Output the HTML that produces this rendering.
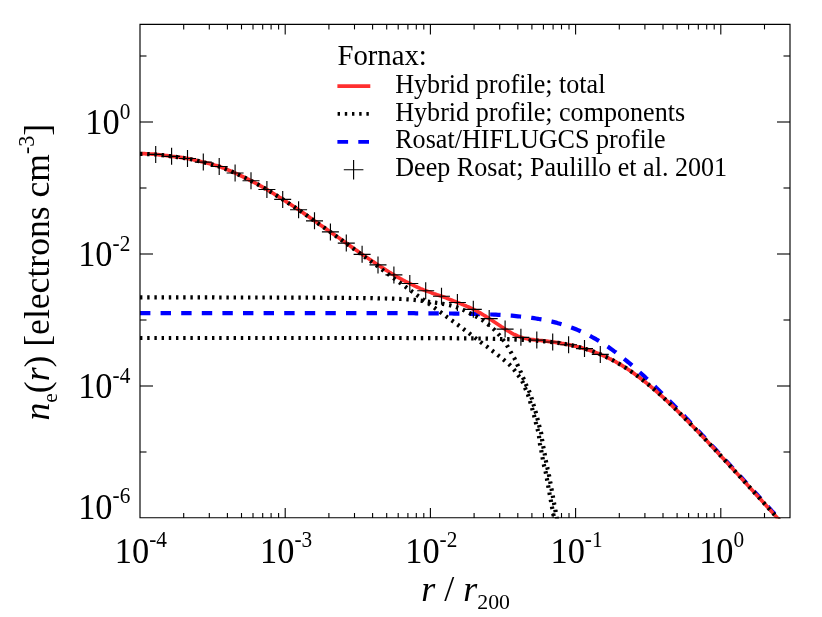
<!DOCTYPE html>
<html><head><meta charset="utf-8"><title>Fornax density profile</title>
<style>
html,body{margin:0;padding:0;background:#fff;}
body{width:822px;height:617px;overflow:hidden;font-family:"Liberation Serif",serif;}
svg{display:block;will-change:transform;}
text{font-family:"Liberation Serif",serif;fill:#000;}
</style></head><body>
<svg width="822" height="617" viewBox="0 0 822 617">
<rect width="822" height="617" fill="#fff"/>
<defs><clipPath id="cp"><rect x="140.0" y="24.4" width="650.0" height="494.1"/></clipPath></defs>
<g clip-path="url(#cp)" fill="none" stroke-linejoin="round">
<polyline points="140.0,313.1 142.0,313.1 144.0,313.1 146.0,313.1 148.0,313.1 150.0,313.1 152.0,313.1 154.0,313.1 156.0,313.1 158.0,313.1 160.0,313.1 162.0,313.1 164.0,313.1 166.0,313.1 168.0,313.1 170.0,313.1 172.0,313.1 174.0,313.1 176.0,313.1 178.0,313.1 180.0,313.1 182.0,313.1 184.0,313.1 186.0,313.1 188.0,313.1 190.0,313.1 192.0,313.1 194.0,313.1 196.0,313.1 198.0,313.1 200.0,313.1 202.0,313.1 204.0,313.1 206.0,313.1 208.0,313.1 210.0,313.1 212.0,313.1 214.0,313.1 216.0,313.1 218.0,313.1 220.0,313.1 222.0,313.1 224.0,313.1 226.0,313.1 228.0,313.1 230.0,313.1 232.0,313.1 234.0,313.1 236.0,313.1 238.0,313.1 240.0,313.1 242.0,313.1 244.0,313.1 246.0,313.1 248.0,313.1 250.0,313.1 252.0,313.1 254.0,313.1 256.0,313.1 258.0,313.1 260.0,313.1 262.0,313.1 264.0,313.1 266.0,313.1 268.0,313.1 270.0,313.1 272.0,313.1 274.0,313.1 276.0,313.1 278.0,313.1 280.0,313.1 282.0,313.1 284.0,313.1 286.0,313.1 288.0,313.1 290.0,313.1 292.0,313.1 294.0,313.1 296.0,313.1 298.0,313.1 300.0,313.1 302.0,313.1 304.0,313.1 306.0,313.1 308.0,313.1 310.0,313.1 312.0,313.1 314.0,313.1 316.0,313.1 318.0,313.1 320.0,313.1 322.0,313.1 324.0,313.1 326.0,313.1 328.0,313.1 330.0,313.1 332.0,313.1 334.0,313.1 336.0,313.1 338.0,313.1 340.0,313.1 342.0,313.1 344.0,313.1 346.0,313.1 348.0,313.1 350.0,313.1 352.0,313.1 354.0,313.1 356.0,313.1 358.0,313.1 360.0,313.2 362.0,313.2 364.0,313.2 366.0,313.2 368.0,313.2 370.0,313.2 372.0,313.2 374.0,313.2 376.0,313.2 378.0,313.2 380.0,313.2 382.0,313.2 384.0,313.2 386.0,313.2 388.0,313.2 390.0,313.2 392.0,313.2 394.0,313.2 396.0,313.2 398.0,313.2 400.0,313.2 402.0,313.2 404.0,313.2 406.0,313.2 408.0,313.2 410.0,313.2 412.0,313.2 414.0,313.2 416.0,313.3 418.0,313.3 420.0,313.3 422.0,313.3 424.0,313.3 426.0,313.3 428.0,313.3 430.0,313.3 432.0,313.3 434.0,313.4 436.0,313.4 438.0,313.4 440.0,313.4 442.0,313.4 444.0,313.4 446.0,313.5 448.0,313.5 450.0,313.5 452.0,313.5 454.0,313.6 456.0,313.6 458.0,313.6 460.0,313.6 462.0,313.7 464.0,313.7 466.0,313.8 468.0,313.8 470.0,313.8 472.0,313.9 474.0,313.9 476.0,314.0 478.0,314.0 480.0,314.1 482.0,314.2 484.0,314.2 486.0,314.3 488.0,314.4 490.0,314.5 492.0,314.5 494.0,314.6 496.0,314.7 498.0,314.8 500.0,314.9 502.0,315.0 504.0,315.2 506.0,315.3 508.0,315.4 510.0,315.6 512.0,315.7 514.0,315.9 516.0,316.1 518.0,316.3 520.0,316.5 522.0,316.7 524.0,316.9 526.0,317.1 528.0,317.4 530.0,317.6 532.0,317.9 534.0,318.2 536.0,318.5 538.0,318.8 540.0,319.2 542.0,319.5 544.0,319.9 546.0,320.3 548.0,320.7 550.0,321.2 552.0,321.6 554.0,322.1 556.0,322.6 558.0,323.2 560.0,323.7 562.0,324.3 564.0,325.0 566.0,325.6 568.0,326.3 570.0,327.0 572.0,327.7 574.0,328.5 576.0,329.3 578.0,330.1 580.0,331.0 582.0,331.9 584.0,332.9 586.0,333.8 588.0,334.8 590.0,335.9 592.0,337.0 594.0,338.1 596.0,339.2 598.0,340.4 600.0,341.6 602.0,342.9 604.0,344.1 606.0,345.5 608.0,346.8 610.0,348.2 612.0,349.6 614.0,351.1 616.0,352.5 618.0,354.1 620.0,355.6 622.0,357.2 624.0,358.8 626.0,360.4 628.0,362.0 630.0,363.7 632.0,365.4 634.0,367.1 636.0,368.9 638.0,370.7 640.0,372.5 642.0,374.3 644.0,376.1 646.0,378.0 648.0,379.8 650.0,381.7 652.0,383.6 654.0,385.5 656.0,387.5 658.0,389.4 660.0,391.4 662.0,393.4 664.0,395.4 666.0,397.4 668.0,399.4 670.0,401.4 672.0,403.4 674.0,405.5 676.0,407.5 678.0,409.6 680.0,411.7 682.0,413.8 684.0,415.8 686.0,417.9 688.0,420.0 690.0,422.1 692.0,424.2 694.0,426.4 696.0,428.5 698.0,430.6 700.0,432.7 702.0,434.9 704.0,437.0 706.0,439.2 708.0,441.3 710.0,443.5 712.0,445.6 714.0,447.8 716.0,449.9 718.0,452.1 720.0,454.2 722.0,456.4 724.0,458.6 726.0,460.8 728.0,462.9 730.0,465.1 732.0,467.3 734.0,469.5 736.0,471.6 738.0,473.8 740.0,476.0 742.0,478.2 744.0,480.4 746.0,482.6 748.0,484.7 750.0,486.9 752.0,489.1 754.0,491.3 756.0,493.5 758.0,495.7 760.0,497.9 762.0,500.1 764.0,502.3 766.0,504.5 768.0,506.7 770.0,508.9 772.0,511.1 774.0,513.2 776.0,515.4 778.0,517.6 780.0,519.8 782.0,522.0 784.0,524.2" stroke="#0000ff" stroke-width="4.2" stroke-dasharray="10.4 10.2"/>
<polyline points="140.0,153.8 141.5,153.8 143.0,153.7 144.5,153.7 146.0,153.8 147.5,153.8 149.0,153.9 150.5,154.0 152.0,154.1 153.5,154.2 155.0,154.3 156.5,154.5 158.0,154.6 159.5,154.8 161.0,155.0 162.5,155.2 164.0,155.3 165.5,155.5 167.0,155.7 168.5,155.9 170.0,156.1 171.5,156.3 173.0,156.5 174.5,156.7 176.0,156.9 177.5,157.0 179.0,157.2 180.5,157.4 182.0,157.6 183.5,157.9 185.0,158.1 186.5,158.3 188.0,158.6 189.5,158.9 191.0,159.2 192.5,159.5 194.0,159.9 195.5,160.2 197.0,160.6 198.5,160.9 200.0,161.3 201.5,161.7 203.0,162.0 204.5,162.4 206.0,162.8 207.5,163.1 209.0,163.5 210.5,163.9 212.0,164.3 213.5,164.7 215.0,165.2 216.5,165.6 218.0,166.1 219.5,166.6 221.0,167.1 222.5,167.7 224.0,168.2 225.5,168.8 227.0,169.5 228.5,170.1 230.0,170.7 231.5,171.4 233.0,172.1 234.5,172.7 236.0,173.4 237.5,174.1 239.0,174.8 240.5,175.5 242.0,176.3 243.5,177.0 245.0,177.7 246.5,178.5 248.0,179.2 249.5,180.0 251.0,180.7 252.5,181.5 254.0,182.3 255.5,183.1 257.0,183.9 258.5,184.7 260.0,185.6 261.5,186.4 263.0,187.3 264.5,188.1 266.0,189.0 267.5,189.9 269.0,190.8 270.5,191.7 272.0,192.6 273.5,193.5 275.0,194.5 276.5,195.4 278.0,196.3 279.5,197.3 281.0,198.2 282.5,199.2 284.0,200.2 285.5,201.1 287.0,202.1 288.5,203.0 290.0,204.0 291.5,205.0 293.0,206.0 294.5,207.0 296.0,207.9 297.5,209.0 299.0,210.0 300.5,211.0 302.0,212.0 303.5,213.1 305.0,214.1 306.5,215.2 308.0,216.2 309.5,217.3 311.0,218.4 312.5,219.4 314.0,220.5 315.5,221.5 317.0,222.6 318.5,223.6 320.0,224.7 321.5,225.7 323.0,226.8 324.5,227.8 326.0,228.9 327.5,229.9 329.0,231.0 330.5,232.0 332.0,233.1 333.5,234.1 335.0,235.2 336.5,236.2 338.0,237.3 339.5,238.3 341.0,239.4 342.5,240.4 344.0,241.5 345.5,242.6 347.0,243.6 348.5,244.7 350.0,245.8 351.5,246.9 353.0,247.9 354.5,249.0 356.0,250.0 357.5,251.1 359.0,252.2 360.5,253.2 362.0,254.2 363.5,255.3 365.0,256.3 366.5,257.3 368.0,258.3 369.5,259.3 371.0,260.3 372.5,261.3 374.0,262.2 375.5,263.2 377.0,264.2 378.5,265.2 380.0,266.2 381.5,267.2 383.0,268.1 384.5,269.1 386.0,270.1 387.5,271.0 389.0,272.0 390.5,272.9 392.0,273.8 393.5,274.7 395.0,275.6 396.5,276.5 398.0,277.3 399.5,278.1 401.0,279.0 402.5,279.8 404.0,280.6 405.5,281.4 407.0,282.1 408.5,282.9 410.0,283.7 411.5,284.4 413.0,285.1 414.5,285.9 416.0,286.6 417.5,287.3 419.0,287.9 420.5,288.6 422.0,289.2 423.5,289.9 425.0,290.5 426.5,291.0 428.0,291.6 429.5,292.1 431.0,292.6 432.5,293.2 434.0,293.7 435.5,294.1 437.0,294.7 438.5,295.2 440.0,295.7 441.5,296.2 443.0,296.7 444.5,297.3 446.0,297.9 447.5,298.5 449.0,299.1 450.5,299.7 452.0,300.3 453.5,300.9 455.0,301.5 456.5,302.1 458.0,302.7 459.5,303.3 461.0,303.9 462.5,304.5 464.0,305.1 465.5,305.7 467.0,306.4 468.5,307.0 470.0,307.7 471.5,308.4 473.0,309.1 474.5,309.9 476.0,310.6 477.5,311.5 479.0,312.3 480.5,313.2 482.0,314.1 483.5,315.0 485.0,315.9 486.5,316.9 488.0,317.8 489.5,318.8 491.0,319.8 492.5,320.8 494.0,321.8 495.5,322.8 497.0,323.8 498.5,324.8 500.0,325.8 501.5,326.8 503.0,327.7 504.5,328.7 506.0,329.7 507.5,330.6 509.0,331.5 510.5,332.4 512.0,333.3 513.5,334.1 515.0,334.8 516.5,335.5 518.0,336.2 519.5,336.8 521.0,337.3 522.5,337.8 524.0,338.2 525.5,338.5 527.0,338.8 528.5,339.1 530.0,339.3 531.5,339.5 533.0,339.7 534.5,339.9 536.0,340.0 537.5,340.2 539.0,340.4 540.5,340.5 542.0,340.7 543.5,340.9 545.0,341.1 546.5,341.2 548.0,341.4 549.5,341.6 551.0,341.8 552.5,342.0 554.0,342.2 555.5,342.4 557.0,342.6 558.5,342.9 560.0,343.1 561.5,343.4 563.0,343.6 564.5,343.9 566.0,344.2 567.5,344.5 569.0,344.8 570.5,345.1 572.0,345.4 573.5,345.7 575.0,346.1 576.5,346.5 578.0,346.8 579.5,347.2 581.0,347.6 582.5,348.1 584.0,348.5 585.5,349.0 587.0,349.4 588.5,349.9 590.0,350.4 591.5,350.9 593.0,351.5 594.5,352.0 596.0,352.6 597.5,353.2 599.0,353.8 600.5,354.4 602.0,355.1 603.5,355.7 605.0,356.4 606.5,357.1 608.0,357.8 609.5,358.6 611.0,359.3 612.5,360.1 614.0,360.9 615.5,361.7 617.0,362.6 618.5,363.4 620.0,364.3 621.5,365.2 623.0,366.1 624.5,367.1 626.0,368.0 627.5,369.0 629.0,370.0 630.5,371.0 632.0,372.1 633.5,373.1 635.0,374.2 636.5,375.3 638.0,376.4 639.5,377.5 641.0,378.7 642.5,379.8 644.0,381.0 645.5,382.2 647.0,383.4 648.5,384.7 650.0,385.9 651.5,387.2 653.0,388.4 654.5,389.7 656.0,391.0 657.5,392.3 659.0,393.7 660.5,395.0 662.0,396.3 663.5,397.7 665.0,399.1 666.5,400.5 668.0,401.9 669.5,403.3 671.0,404.7 672.5,406.1 674.0,407.6 675.5,409.0 677.0,410.5 678.5,411.9 680.0,413.4 681.5,414.9 683.0,416.4 684.5,417.9 686.0,419.4 687.5,420.9 689.0,422.4 690.5,424.0 692.0,425.5 693.5,427.0 695.0,428.6 696.5,430.1 698.0,431.7 699.5,433.3 701.0,434.8 702.5,436.4 704.0,438.0 705.5,439.5 707.0,441.1 708.5,442.7 710.0,444.3 711.5,445.9 713.0,447.5 714.5,449.1 716.0,450.7 717.5,452.3 719.0,453.9 720.5,455.5 722.0,457.2 723.5,458.8 725.0,460.4 726.5,462.0 728.0,463.6 729.5,465.3 731.0,466.9 732.5,468.5 734.0,470.2 735.5,471.8 737.0,473.4 738.5,475.1 740.0,476.7 741.5,478.4 743.0,480.0 744.5,481.7 746.0,483.3 747.5,485.0 749.0,486.6 750.5,488.3 752.0,489.9 753.5,491.6 755.0,493.2 756.5,494.9 758.0,496.5 759.5,498.2 761.0,499.8 762.5,501.5 764.0,503.1 765.5,504.8 767.0,506.5 768.5,508.1 770.0,509.8 771.5,511.4 773.0,513.1 774.5,514.8 776.0,516.4 777.5,518.1 779.0,519.8 780.5,521.4 782.0,523.1" stroke="#ff2f2f" stroke-width="3.7"/>
<g stroke="#000" stroke-width="4.2" stroke-dasharray="2.4 4.8">
<polyline points="140.0,338.0 142.0,338.0 144.0,338.0 146.0,338.0 148.0,338.0 150.0,338.0 152.0,338.0 154.0,338.0 156.0,338.0 158.0,338.0 160.0,338.0 162.0,338.0 164.0,338.0 166.0,338.0 168.0,338.0 170.0,338.0 172.0,338.0 174.0,338.0 176.0,338.0 178.0,338.0 180.0,338.0 182.0,338.0 184.0,338.0 186.0,338.0 188.0,338.0 190.0,338.0 192.0,338.0 194.0,338.0 196.0,338.0 198.0,338.0 200.0,338.0 202.0,338.0 204.0,338.0 206.0,338.0 208.0,338.0 210.0,338.0 212.0,338.0 214.0,338.0 216.0,338.0 218.0,338.0 220.0,338.0 222.0,338.0 224.0,338.0 226.0,338.0 228.0,338.0 230.0,338.0 232.0,338.0 234.0,338.0 236.0,338.0 238.0,338.0 240.0,338.0 242.0,338.0 244.0,338.0 246.0,338.0 248.0,338.0 250.0,338.0 252.0,338.0 254.0,338.0 256.0,338.0 258.0,338.0 260.0,338.0 262.0,338.0 264.0,338.0 266.0,338.0 268.0,338.0 270.0,338.0 272.0,338.0 274.0,338.0 276.0,338.0 278.0,338.0 280.0,338.0 282.0,338.0 284.0,338.0 286.0,338.0 288.0,338.0 290.0,338.0 292.0,338.0 294.0,338.0 296.0,338.0 298.0,338.0 300.0,338.0 302.0,338.0 304.0,338.0 306.0,338.0 308.0,338.0 310.0,338.0 312.0,338.0 314.0,338.0 316.0,338.0 318.0,338.0 320.0,338.0 322.0,338.0 324.0,338.0 326.0,338.0 328.0,338.0 330.0,338.0 332.0,338.0 334.0,338.0 336.0,338.0 338.0,338.0 340.0,338.0 342.0,338.0 344.0,338.0 346.0,338.0 348.0,338.0 350.0,338.0 352.0,338.0 354.0,338.0 356.0,338.0 358.0,338.0 360.0,338.0 362.0,338.0 364.0,338.0 366.0,338.0 368.0,338.0 370.0,338.0 372.0,338.0 374.0,338.0 376.0,338.0 378.0,338.0 380.0,338.0 382.0,338.0 384.0,338.0 386.0,338.0 388.0,338.0 390.0,338.0 392.0,338.0 394.0,338.0 396.0,338.0 398.0,338.0 400.0,338.0 402.0,338.0 404.0,338.0 406.0,338.0 408.0,338.1 410.0,338.1 412.0,338.1 414.0,338.1 416.0,338.1 418.0,338.1 420.0,338.1 422.0,338.1 424.0,338.1 426.0,338.1 428.0,338.1 430.0,338.1 432.0,338.1 434.0,338.1 436.0,338.1 438.0,338.1 440.0,338.1 442.0,338.2 444.0,338.2 446.0,338.2 448.0,338.2 450.0,338.2 452.0,338.2 454.0,338.2 456.0,338.2 458.0,338.3 460.0,338.3 462.0,338.3 464.0,338.3 466.0,338.3 468.0,338.3 470.0,338.4 472.0,338.4 474.0,338.4 476.0,338.5 478.0,338.5 480.0,338.5 482.0,338.5 484.0,338.6 486.0,338.6 488.0,338.7 490.0,338.7 492.0,338.7 494.0,338.8 496.0,338.8 498.0,338.9 500.0,339.0 502.0,339.0 504.0,339.1 506.0,339.2 508.0,339.2 510.0,339.3 512.0,339.4 514.0,339.5 516.0,339.6 518.0,339.7 520.0,339.8 522.0,339.9 524.0,340.0 526.0,340.1 528.0,340.2 530.0,340.3 532.0,340.4 534.0,340.5 536.0,340.7 538.0,340.8 540.0,341.0 542.0,341.1 544.0,341.3 546.0,341.5 548.0,341.7 550.0,341.9 552.0,342.1 554.0,342.3 556.0,342.6 558.0,342.8 560.0,343.1 562.0,343.4 564.0,343.8 566.0,344.2 568.0,344.6 570.0,345.0 572.0,345.4 574.0,345.9 576.0,346.3 578.0,346.8 580.0,347.4 582.0,347.9 584.0,348.5 586.0,349.1 588.0,349.7 590.0,350.4 592.0,351.1 594.0,351.8 596.0,352.6 598.0,353.4 600.0,354.2 602.0,355.1 604.0,356.0 606.0,356.9 608.0,357.8 610.0,358.8 612.0,359.9 614.0,360.9 616.0,362.0 618.0,363.2 620.0,364.3 622.0,365.5 624.0,366.8 626.0,368.0 628.0,369.4 630.0,370.7 632.0,372.1 634.0,373.5 636.0,374.9 638.0,376.4 640.0,377.9 642.0,379.5 644.0,381.0 646.0,382.6 648.0,384.2 650.0,385.9 652.0,387.6 654.0,389.3 656.0,391.0 658.0,392.8 660.0,394.5 662.0,396.3 664.0,398.2 666.0,400.0 668.0,401.9 670.0,403.8 672.0,405.7 674.0,407.6 676.0,409.5 678.0,411.5 680.0,413.4 682.0,415.4 684.0,417.4 686.0,419.4 688.0,421.4 690.0,423.5 692.0,425.5 694.0,427.6 696.0,429.6 698.0,431.7 700.0,433.8 702.0,435.9 704.0,438.0 706.0,440.1 708.0,442.2 710.0,444.3 712.0,446.4 714.0,448.6 716.0,450.7 718.0,452.8 720.0,455.0 722.0,457.2 724.0,459.3 726.0,461.5 728.0,463.6 730.0,465.8 732.0,468.0 734.0,470.2 736.0,472.4 738.0,474.5 740.0,476.7 742.0,478.9 744.0,481.1 746.0,483.3 748.0,485.5 750.0,487.7 752.0,489.9 754.0,492.1 756.0,494.3 758.0,496.5 760.0,498.7 762.0,500.9 764.0,503.1 766.0,505.4 768.0,507.6 770.0,509.8 772.0,512.0 774.0,514.2 776.0,516.4 778.0,518.7 780.0,520.9 782.0,523.1 784.0,525.3"/>
<polyline points="140.0,297.4 141.5,297.4 143.0,297.4 144.5,297.4 146.0,297.4 147.5,297.4 149.0,297.4 150.5,297.4 152.0,297.4 153.5,297.4 155.0,297.4 156.5,297.4 158.0,297.4 159.5,297.4 161.0,297.4 162.5,297.4 164.0,297.4 165.5,297.4 167.0,297.4 168.5,297.4 170.0,297.4 171.5,297.4 173.0,297.4 174.5,297.4 176.0,297.4 177.5,297.4 179.0,297.4 180.5,297.4 182.0,297.4 183.5,297.4 185.0,297.4 186.5,297.4 188.0,297.4 189.5,297.4 191.0,297.4 192.5,297.4 194.0,297.4 195.5,297.4 197.0,297.4 198.5,297.4 200.0,297.4 201.5,297.4 203.0,297.4 204.5,297.4 206.0,297.4 207.5,297.4 209.0,297.4 210.5,297.4 212.0,297.4 213.5,297.4 215.0,297.5 216.5,297.5 218.0,297.5 219.5,297.5 221.0,297.5 222.5,297.5 224.0,297.5 225.5,297.5 227.0,297.5 228.5,297.5 230.0,297.5 231.5,297.5 233.0,297.5 234.5,297.5 236.0,297.5 237.5,297.5 239.0,297.5 240.5,297.5 242.0,297.5 243.5,297.5 245.0,297.5 246.5,297.5 248.0,297.5 249.5,297.5 251.0,297.5 252.5,297.5 254.0,297.5 255.5,297.5 257.0,297.5 258.5,297.5 260.0,297.5 261.5,297.5 263.0,297.5 264.5,297.5 266.0,297.5 267.5,297.5 269.0,297.5 270.5,297.5 272.0,297.5 273.5,297.6 275.0,297.6 276.5,297.6 278.0,297.6 279.5,297.6 281.0,297.6 282.5,297.6 284.0,297.6 285.5,297.6 287.0,297.6 288.5,297.6 290.0,297.6 291.5,297.6 293.0,297.6 294.5,297.6 296.0,297.6 297.5,297.6 299.0,297.6 300.5,297.7 302.0,297.7 303.5,297.7 305.0,297.7 306.5,297.7 308.0,297.7 309.5,297.7 311.0,297.7 312.5,297.7 314.0,297.7 315.5,297.7 317.0,297.7 318.5,297.7 320.0,297.7 321.5,297.8 323.0,297.8 324.5,297.8 326.0,297.8 327.5,297.8 329.0,297.8 330.5,297.8 332.0,297.8 333.5,297.8 335.0,297.8 336.5,297.8 338.0,297.9 339.5,297.9 341.0,297.9 342.5,297.9 344.0,297.9 345.5,297.9 347.0,297.9 348.5,297.9 350.0,298.0 351.5,298.0 353.0,298.0 354.5,298.0 356.0,298.0 357.5,298.0 359.0,298.1 360.5,298.1 362.0,298.1 363.5,298.1 365.0,298.1 366.5,298.2 368.0,298.2 369.5,298.2 371.0,298.2 372.5,298.2 374.0,298.3 375.5,298.3 377.0,298.3 378.5,298.4 380.0,298.4 381.5,298.4 383.0,298.5 384.5,298.5 386.0,298.5 387.5,298.6 389.0,298.6 390.5,298.6 392.0,298.7 393.5,298.7 395.0,298.8 396.5,298.8 398.0,298.8 399.5,298.9 401.0,299.0 402.5,299.0 404.0,299.1 405.5,299.2 407.0,299.3 408.5,299.4 410.0,299.5 411.5,299.6 413.0,299.8 414.5,299.9 415.9,300.1 417.4,300.3 418.9,300.4 420.4,300.6 421.9,300.8 423.4,301.0 424.9,301.2 426.4,301.4 427.8,301.7 429.3,301.9 430.8,302.1 432.3,302.2 433.8,302.4 435.3,302.6 436.8,302.9 438.2,303.1 439.7,303.3 441.2,303.6 442.7,303.8 444.2,304.1 445.6,304.4 447.1,304.7 448.6,305.0 450.0,305.3 451.5,305.7 452.9,306.1 454.4,306.5 455.8,306.9 457.2,307.4 458.6,307.9 460.0,308.5 461.4,309.1 462.8,309.7 464.1,310.3 465.5,311.0 466.8,311.7 468.1,312.4 469.5,313.1 470.8,313.8 472.2,314.4 473.5,315.1 474.8,315.8 476.1,316.5 477.5,317.2 478.8,318.0 480.1,318.7 481.3,319.5 482.6,320.3 483.8,321.2 485.0,322.1 486.2,323.0 487.4,323.9 488.6,324.8 489.8,325.8 490.9,326.7 492.1,327.7 493.2,328.7 494.3,329.7 495.3,330.8 496.4,331.9 497.4,333.0 498.4,334.1 499.4,335.2 500.4,336.4 501.3,337.5 502.2,338.7 503.1,339.9 504.0,341.1 504.9,342.3 505.8,343.6 506.6,344.8 507.4,346.1 508.2,347.4 508.9,348.7 509.6,350.0 510.3,351.3 511.1,352.6 511.8,353.9 512.6,355.2 513.3,356.5 514.1,357.8 514.8,359.1 515.4,360.5 516.1,361.8 516.7,363.2 517.3,364.6 518.0,365.9 518.6,367.3 519.2,368.6 519.9,370.0 520.5,371.4 521.1,372.7 521.7,374.1 522.3,375.5 522.8,376.9 523.4,378.3 524.0,379.7 524.5,381.1 525.1,382.5 525.7,383.8 526.3,385.2 527.0,386.5 527.7,387.9 528.3,389.2 528.9,390.6 529.5,392.0 530.1,393.4 530.6,394.8 531.1,396.2 531.5,397.6 532.0,399.1 532.4,400.5 532.8,401.9 533.2,403.4 533.6,404.8 534.1,406.3 534.5,407.7 534.9,409.1 535.3,410.6 535.7,412.0 536.1,413.5 536.5,414.9 536.9,416.4 537.2,417.8 537.6,419.3 538.0,420.7 538.4,422.2 538.7,423.6 539.1,425.1 539.4,426.6 539.8,428.0 540.2,429.5 540.6,430.9 541.0,432.4 541.3,433.8 541.5,435.3 541.7,436.8 541.9,438.3 542.1,439.8 542.3,441.3 542.6,442.7 542.8,444.2 543.1,445.7 543.4,447.2 543.7,448.6 544.0,450.1 544.2,451.6 544.5,453.1 544.8,454.5 545.0,456.0 545.3,457.5 545.5,459.0 545.8,460.4 546.1,461.9 546.4,463.4 546.7,464.9 547.0,466.3 547.4,467.8 547.7,469.2 548.1,470.7 548.4,472.1 548.8,473.6 549.0,475.1 549.3,476.6 549.6,478.0 549.8,479.5 550.1,481.0 550.3,482.5 550.6,484.0 550.9,485.4 551.1,486.9 551.4,488.4 551.7,489.9 552.0,491.3 552.2,492.8 552.5,494.3 552.8,495.8 553.0,497.2 553.3,498.7 553.6,500.2 553.8,501.7 554.1,503.1 554.3,504.6 554.6,506.1 554.9,507.6 555.2,509.0 555.4,510.5 555.7,512.0 556.0,513.5 556.3,514.9 556.5,516.4 556.8,517.9 557.1,519.4 557.4,520.8"/>
<polyline points="140.0,153.9 141.5,153.9 143.0,153.9 144.5,154.0 146.0,154.0 147.5,154.1 149.0,154.1 150.5,154.2 152.0,154.3 153.5,154.4 155.0,154.5 156.5,154.5 158.0,154.7 159.5,154.8 161.0,155.0 162.4,155.2 163.9,155.4 165.4,155.6 166.9,155.8 168.4,156.0 169.9,156.2 171.4,156.4 172.9,156.6 174.4,156.8 175.8,156.9 177.3,157.1 178.8,157.3 180.3,157.5 181.8,157.7 183.3,157.9 184.8,158.2 186.2,158.4 187.7,158.7 189.2,158.9 190.7,159.2 192.1,159.5 193.6,159.8 195.1,160.2 196.5,160.5 198.0,160.9 199.4,161.2 200.9,161.6 202.4,162.0 203.8,162.3 205.3,162.7 206.7,163.1 208.2,163.4 209.6,163.8 211.1,164.2 212.5,164.6 214.0,165.0 215.4,165.4 216.8,165.8 218.3,166.3 219.7,166.8 221.1,167.3 222.5,167.8 223.9,168.3 225.3,168.9 226.7,169.4 228.1,170.0 229.5,170.6 230.8,171.2 232.2,171.8 233.6,172.4 235.0,173.0 236.3,173.7 237.7,174.3 239.0,174.9 240.4,175.6 241.8,176.2 243.1,176.9 244.5,177.5 245.8,178.2 247.1,178.9 248.5,179.5 249.8,180.2 251.1,180.9 252.5,181.6 253.8,182.3 255.1,183.0 256.4,183.7 257.8,184.4 259.1,185.2 260.4,185.9 261.7,186.6 263.0,187.4 264.3,188.1 265.6,188.9 266.9,189.6 268.2,190.4 269.5,191.1 270.8,191.9 272.0,192.7 273.3,193.5 274.6,194.3 275.9,195.1 277.1,195.9 278.4,196.7 279.7,197.5 280.9,198.3 282.2,199.1 283.5,199.9 284.7,200.7 286.0,201.5 287.3,202.3 288.5,203.2 289.8,204.0 291.0,204.8 292.3,205.6 293.5,206.4 294.8,207.3 296.0,208.1 297.3,208.9 298.5,209.8 299.8,210.6 301.0,211.4 302.2,212.3 303.5,213.2 304.7,214.0 305.9,214.9 307.2,215.7 308.4,216.6 309.6,217.5 310.8,218.4 312.0,219.2 313.3,220.1 314.5,220.9 315.7,221.8 317.0,222.7 318.2,223.5 319.4,224.4 320.7,225.2 321.9,226.1 323.1,226.9 324.4,227.8 325.6,228.7 326.8,229.5 328.0,230.4 329.3,231.2 330.5,232.1 331.7,233.0 332.9,233.8 334.2,234.7 335.4,235.6 336.6,236.5 337.8,237.3 339.0,238.2 340.3,239.1 341.5,240.0 342.7,240.8 343.9,241.7 345.1,242.6 346.3,243.5 347.6,244.4 348.8,245.2 350.0,246.1 351.2,247.0 352.4,247.9 353.6,248.8 354.8,249.7 356.0,250.6 357.2,251.4 358.4,252.3 359.7,253.2 360.9,254.1 362.1,255.0 363.3,255.9 364.5,256.7 365.7,257.6 366.9,258.5 368.2,259.4 369.4,260.2 370.6,261.1 371.8,262.0 373.0,262.9 374.3,263.7 375.5,264.6 376.7,265.5 377.9,266.4 379.1,267.3 380.3,268.2 381.5,269.1 382.7,270.0 383.9,270.9 385.1,271.8 386.3,272.7 387.5,273.6 388.7,274.5 389.9,275.4 391.1,276.2 392.3,277.1 393.5,278.0 394.7,278.9 396.0,279.8 397.2,280.7 398.4,281.6 399.6,282.5 400.8,283.3 402.0,284.2 403.2,285.1 404.5,286.0 405.7,286.9 406.9,287.7 408.1,288.6 409.3,289.5 410.5,290.4 411.7,291.3 413.0,292.1 414.2,293.0 415.4,293.9 416.6,294.8 417.8,295.7 419.0,296.5 420.2,297.4 421.4,298.3 422.7,299.2 423.9,300.1 425.1,300.9 426.3,301.8 427.5,302.7 428.7,303.6 430.0,304.5 431.2,305.4 432.4,306.2 433.6,307.1 434.8,308.0 436.0,308.9 437.2,309.8 438.4,310.7 439.6,311.5 440.9,312.4 442.1,313.3 443.3,314.2 444.5,315.1 445.7,316.0 446.9,316.9 448.1,317.7 449.3,318.6 450.5,319.5 451.8,320.4 453.0,321.3 454.2,322.1 455.4,323.0 456.6,323.9 457.8,324.8 459.0,325.7 460.2,326.6 461.4,327.5 462.6,328.4 463.8,329.3 465.0,330.2 466.2,331.1 467.4,332.0 468.6,332.9 469.8,333.8 471.0,334.7 472.2,335.7 473.4,336.6 474.6,337.5 475.8,338.4 476.9,339.3 478.1,340.2 479.3,341.1 480.5,342.0 481.7,342.9 482.9,343.8 484.2,344.7 485.4,345.6 486.6,346.4 487.8,347.3 489.0,348.3 490.2,349.2 491.4,350.1 492.6,351.0 493.7,351.9 494.9,352.8 496.1,353.7 497.3,354.6 498.5,355.6 499.7,356.5 500.9,357.4 502.0,358.4 503.2,359.3 504.4,360.3 505.5,361.2 506.7,362.2 507.8,363.1 508.9,364.1 510.0,365.2 511.0,366.3 512.0,367.4 513.0,368.5 514.0,369.7 514.9,370.8 515.8,372.0 516.7,373.2 517.6,374.5 518.5,375.7 519.3,376.9 520.2,378.1 521.1,379.4 521.9,380.6 522.6,381.9 523.2,383.3 523.7,384.7 524.3,386.1 524.9,387.5 525.5,388.9 526.1,390.2 526.7,391.6 527.3,393.0 527.9,394.4 528.3,395.8 528.8,397.2 529.2,398.7 529.7,400.1 530.1,401.5 530.5,403.0 530.9,404.4 531.3,405.9 531.8,407.3 532.2,408.7 532.6,410.2 533.0,411.6 533.4,413.1 533.8,414.5 534.2,416.0 534.5,417.4 534.9,418.9 535.3,420.3 535.7,421.8 536.0,423.2 536.4,424.7 536.7,426.2 537.1,427.6 537.5,429.1 537.9,430.5 538.3,432.0 538.6,433.4 538.8,434.9 539.0,436.4 539.2,437.9 539.3,439.4 539.5,440.9 539.7,442.4 539.9,443.8 540.2,445.3 540.5,446.8 540.8,448.3 541.1,449.7 541.4,451.2 541.6,452.7 541.9,454.1 542.2,455.6 542.4,457.1 542.7,458.6 542.9,460.1 543.2,461.5 543.5,463.0 543.8,464.5 544.1,465.9 544.5,467.4 544.9,468.9 545.2,470.3 545.6,471.8 545.9,473.2 546.2,474.7 546.5,476.2 546.7,477.7 547.0,479.1 547.2,480.6 547.5,482.1 547.7,483.6 548.0,485.0 548.3,486.5 548.5,488.0 548.8,489.5 549.1,490.9 549.4,492.4 549.6,493.9 549.9,495.4 550.2,496.8 550.4,498.3 550.7,499.8 551.0,501.3 551.2,502.8 551.5,504.2 551.7,505.7 552.0,507.2 552.3,508.7 552.6,510.1 552.8,511.6 553.1,513.1 553.4,514.6 553.7,516.0 553.9,517.5 554.2,519.0 554.5,520.5"/>
</g>
<g stroke="#000" stroke-width="1.15"><path d="M147.2,154.4H164.2M155.7,145.9V162.9"/><path d="M163.1,156.3H180.1M171.6,147.8V164.8"/><path d="M179.0,158.5H196.0M187.5,150.0V167.0"/><path d="M194.8,162.1H211.8M203.3,153.6V170.6"/><path d="M210.7,166.5H227.7M219.2,158.0V175.0"/><path d="M226.6,173.0H243.6M235.1,164.5V181.5"/><path d="M242.5,180.7H259.5M251.0,172.2V189.2"/><path d="M258.4,189.5H275.4M266.9,181.0V198.0"/><path d="M274.2,199.4H291.2M282.7,190.9V207.9"/><path d="M290.1,209.7H307.1M298.6,201.2V218.2"/><path d="M306.0,220.8H323.0M314.5,212.3V229.3"/><path d="M321.9,231.9H338.9M330.4,223.4V240.4"/><path d="M337.8,243.1H354.8M346.3,234.6V251.6"/><path d="M353.6,254.3H370.6M362.1,245.8V262.8"/><path d="M369.5,264.9H386.5M378.0,256.4V273.4"/><path d="M385.4,274.9H402.4M393.9,266.4V283.4"/><path d="M401.3,283.5H418.3M409.8,275.0V292.0"/><path d="M417.2,290.7H434.2M425.7,282.2V299.2"/><path d="M433.0,296.2H450.0M441.5,287.7V304.7"/><path d="M448.9,302.5H465.9M457.4,294.0V311.0"/><path d="M464.8,309.3H481.8M473.3,300.8V317.8"/><path d="M480.7,318.6H497.7M489.2,310.1V327.1"/><path d="M496.6,329.1H513.6M505.1,320.6V337.6"/><path d="M512.4,337.3H529.4M520.9,328.8V345.8"/><path d="M528.3,340.1H545.3M536.8,331.6V348.6"/><path d="M544.2,342.0H561.2M552.7,333.5V350.5"/><path d="M560.1,344.7H577.1M568.6,336.2V353.2"/><path d="M576.0,348.6H593.0M584.5,340.1V357.1"/><path d="M591.8,354.4H608.8M600.3,345.9V362.9"/></g>
</g>
<g stroke="#000" stroke-width="1.1" fill="none"><line x1="183.7" y1="518.0" x2="183.7" y2="513.0"/><line x1="183.7" y1="24.4" x2="183.7" y2="29.4"/><line x1="209.3" y1="518.0" x2="209.3" y2="513.0"/><line x1="209.3" y1="24.4" x2="209.3" y2="29.4"/><line x1="227.4" y1="518.0" x2="227.4" y2="513.0"/><line x1="227.4" y1="24.4" x2="227.4" y2="29.4"/><line x1="241.5" y1="518.0" x2="241.5" y2="513.0"/><line x1="241.5" y1="24.4" x2="241.5" y2="29.4"/><line x1="253.0" y1="518.0" x2="253.0" y2="513.0"/><line x1="253.0" y1="24.4" x2="253.0" y2="29.4"/><line x1="262.7" y1="518.0" x2="262.7" y2="513.0"/><line x1="262.7" y1="24.4" x2="262.7" y2="29.4"/><line x1="271.1" y1="518.0" x2="271.1" y2="513.0"/><line x1="271.1" y1="24.4" x2="271.1" y2="29.4"/><line x1="278.6" y1="518.0" x2="278.6" y2="513.0"/><line x1="278.6" y1="24.4" x2="278.6" y2="29.4"/><line x1="285.2" y1="518.0" x2="285.2" y2="508.0"/><line x1="285.2" y1="24.4" x2="285.2" y2="34.4"/><line x1="328.9" y1="518.0" x2="328.9" y2="513.0"/><line x1="328.9" y1="24.4" x2="328.9" y2="29.4"/><line x1="354.5" y1="518.0" x2="354.5" y2="513.0"/><line x1="354.5" y1="24.4" x2="354.5" y2="29.4"/><line x1="372.6" y1="518.0" x2="372.6" y2="513.0"/><line x1="372.6" y1="24.4" x2="372.6" y2="29.4"/><line x1="386.7" y1="518.0" x2="386.7" y2="513.0"/><line x1="386.7" y1="24.4" x2="386.7" y2="29.4"/><line x1="398.2" y1="518.0" x2="398.2" y2="513.0"/><line x1="398.2" y1="24.4" x2="398.2" y2="29.4"/><line x1="407.9" y1="518.0" x2="407.9" y2="513.0"/><line x1="407.9" y1="24.4" x2="407.9" y2="29.4"/><line x1="416.3" y1="518.0" x2="416.3" y2="513.0"/><line x1="416.3" y1="24.4" x2="416.3" y2="29.4"/><line x1="423.8" y1="518.0" x2="423.8" y2="513.0"/><line x1="423.8" y1="24.4" x2="423.8" y2="29.4"/><line x1="430.4" y1="518.0" x2="430.4" y2="508.0"/><line x1="430.4" y1="24.4" x2="430.4" y2="34.4"/><line x1="474.1" y1="518.0" x2="474.1" y2="513.0"/><line x1="474.1" y1="24.4" x2="474.1" y2="29.4"/><line x1="499.7" y1="518.0" x2="499.7" y2="513.0"/><line x1="499.7" y1="24.4" x2="499.7" y2="29.4"/><line x1="517.8" y1="518.0" x2="517.8" y2="513.0"/><line x1="517.8" y1="24.4" x2="517.8" y2="29.4"/><line x1="531.9" y1="518.0" x2="531.9" y2="513.0"/><line x1="531.9" y1="24.4" x2="531.9" y2="29.4"/><line x1="543.4" y1="518.0" x2="543.4" y2="513.0"/><line x1="543.4" y1="24.4" x2="543.4" y2="29.4"/><line x1="553.1" y1="518.0" x2="553.1" y2="513.0"/><line x1="553.1" y1="24.4" x2="553.1" y2="29.4"/><line x1="561.5" y1="518.0" x2="561.5" y2="513.0"/><line x1="561.5" y1="24.4" x2="561.5" y2="29.4"/><line x1="569.0" y1="518.0" x2="569.0" y2="513.0"/><line x1="569.0" y1="24.4" x2="569.0" y2="29.4"/><line x1="575.6" y1="518.0" x2="575.6" y2="508.0"/><line x1="575.6" y1="24.4" x2="575.6" y2="34.4"/><line x1="619.3" y1="518.0" x2="619.3" y2="513.0"/><line x1="619.3" y1="24.4" x2="619.3" y2="29.4"/><line x1="644.9" y1="518.0" x2="644.9" y2="513.0"/><line x1="644.9" y1="24.4" x2="644.9" y2="29.4"/><line x1="663.0" y1="518.0" x2="663.0" y2="513.0"/><line x1="663.0" y1="24.4" x2="663.0" y2="29.4"/><line x1="677.1" y1="518.0" x2="677.1" y2="513.0"/><line x1="677.1" y1="24.4" x2="677.1" y2="29.4"/><line x1="688.6" y1="518.0" x2="688.6" y2="513.0"/><line x1="688.6" y1="24.4" x2="688.6" y2="29.4"/><line x1="698.3" y1="518.0" x2="698.3" y2="513.0"/><line x1="698.3" y1="24.4" x2="698.3" y2="29.4"/><line x1="706.7" y1="518.0" x2="706.7" y2="513.0"/><line x1="706.7" y1="24.4" x2="706.7" y2="29.4"/><line x1="714.2" y1="518.0" x2="714.2" y2="513.0"/><line x1="714.2" y1="24.4" x2="714.2" y2="29.4"/><line x1="720.8" y1="518.0" x2="720.8" y2="508.0"/><line x1="720.8" y1="24.4" x2="720.8" y2="34.4"/><line x1="764.5" y1="518.0" x2="764.5" y2="513.0"/><line x1="764.5" y1="24.4" x2="764.5" y2="29.4"/><line x1="140.0" y1="452.0" x2="146.5" y2="452.0"/><line x1="790.0" y1="452.0" x2="783.5" y2="452.0"/><line x1="140.0" y1="386.0" x2="153.0" y2="386.0"/><line x1="790.0" y1="386.0" x2="777.0" y2="386.0"/><line x1="140.0" y1="320.0" x2="146.5" y2="320.0"/><line x1="790.0" y1="320.0" x2="783.5" y2="320.0"/><line x1="140.0" y1="254.0" x2="153.0" y2="254.0"/><line x1="790.0" y1="254.0" x2="777.0" y2="254.0"/><line x1="140.0" y1="188.0" x2="146.5" y2="188.0"/><line x1="790.0" y1="188.0" x2="783.5" y2="188.0"/><line x1="140.0" y1="122.0" x2="153.0" y2="122.0"/><line x1="790.0" y1="122.0" x2="777.0" y2="122.0"/><line x1="140.0" y1="56.0" x2="146.5" y2="56.0"/><line x1="790.0" y1="56.0" x2="783.5" y2="56.0"/></g>
<path d="M140.0,517.7V24.4H790.0V517.7Z" fill="none" stroke="#000" stroke-width="1.15"/>
<text transform="translate(140.9,563.2) scale(0.955,1)" text-anchor="middle" font-size="36">10<tspan font-size="22.3" dy="-16.4">-4</tspan></text><text transform="translate(286.1,563.2) scale(0.955,1)" text-anchor="middle" font-size="36">10<tspan font-size="22.3" dy="-16.4">-3</tspan></text><text transform="translate(431.3,563.2) scale(0.955,1)" text-anchor="middle" font-size="36">10<tspan font-size="22.3" dy="-16.4">-2</tspan></text><text transform="translate(576.5,563.2) scale(0.955,1)" text-anchor="middle" font-size="36">10<tspan font-size="22.3" dy="-16.4">-1</tspan></text><text transform="translate(721.7,563.2) scale(0.955,1)" text-anchor="middle" font-size="36">10<tspan font-size="22.3" dy="-16.4">0</tspan></text>
<text transform="translate(130.3,518.5) scale(0.955,1)" text-anchor="end" font-size="36">10<tspan font-size="22.3" dy="-15.5">-6</tspan></text><text transform="translate(130.3,398.2) scale(0.955,1)" text-anchor="end" font-size="36">10<tspan font-size="22.3" dy="-15.5">-4</tspan></text><text transform="translate(130.3,266.2) scale(0.955,1)" text-anchor="end" font-size="36">10<tspan font-size="22.3" dy="-15.5">-2</tspan></text><text transform="translate(130.3,134.2) scale(0.955,1)" text-anchor="end" font-size="36">10<tspan font-size="22.3" dy="-15.5">0</tspan></text>
<text transform="translate(421.2,601.0) scale(1.0,1)" font-size="36" xml:space="preserve"><tspan font-style="italic">r</tspan> / <tspan font-style="italic">r</tspan><tspan font-size="21.8" dy="7.9">200</tspan></text>
<text transform="translate(49.2,420.6) rotate(-90) scale(0.989,1)" font-size="36" xml:space="preserve"><tspan font-style="italic">n</tspan><tspan font-size="21.8" dy="7.9">e</tspan><tspan dy="-7.9">(</tspan><tspan font-style="italic">r</tspan>) [electrons cm<tspan font-size="22.3" dy="-15">-3</tspan><tspan dy="15">]</tspan></text>
<text transform="translate(337.4,64.9) scale(0.985,1)" font-size="29.2">Fornax:</text><text transform="translate(395.2,92.9) scale(0.985,1)" font-size="26.5">Hybrid profile; total</text><text transform="translate(395.2,120.5) scale(0.985,1)" font-size="26.5">Hybrid profile; components</text><text transform="translate(395.2,148.2) scale(0.985,1)" font-size="26.5">Rosat/HIFLUGCS profile</text><text transform="translate(395.2,175.9) scale(0.985,1)" font-size="26.5">Deep Rosat; Paulillo et al. 2001</text>
<line x1="337.4" y1="86.2" x2="370.3" y2="86.2" stroke="#ff2f2f" stroke-width="3.8"/>
<line x1="337.6" y1="113.8" x2="371" y2="113.8" stroke="#000" stroke-width="3.8" stroke-dasharray="2.4 4.8"/>
<line x1="337.4" y1="141.9" x2="369" y2="141.9" stroke="#0000ff" stroke-width="3.8" stroke-dasharray="10.7 10.2"/>
<path d="M343.8,169.7H363.4M353.6,159.9V179.5" stroke="#000" stroke-width="1.15" fill="none"/>
</svg>
</body></html>
